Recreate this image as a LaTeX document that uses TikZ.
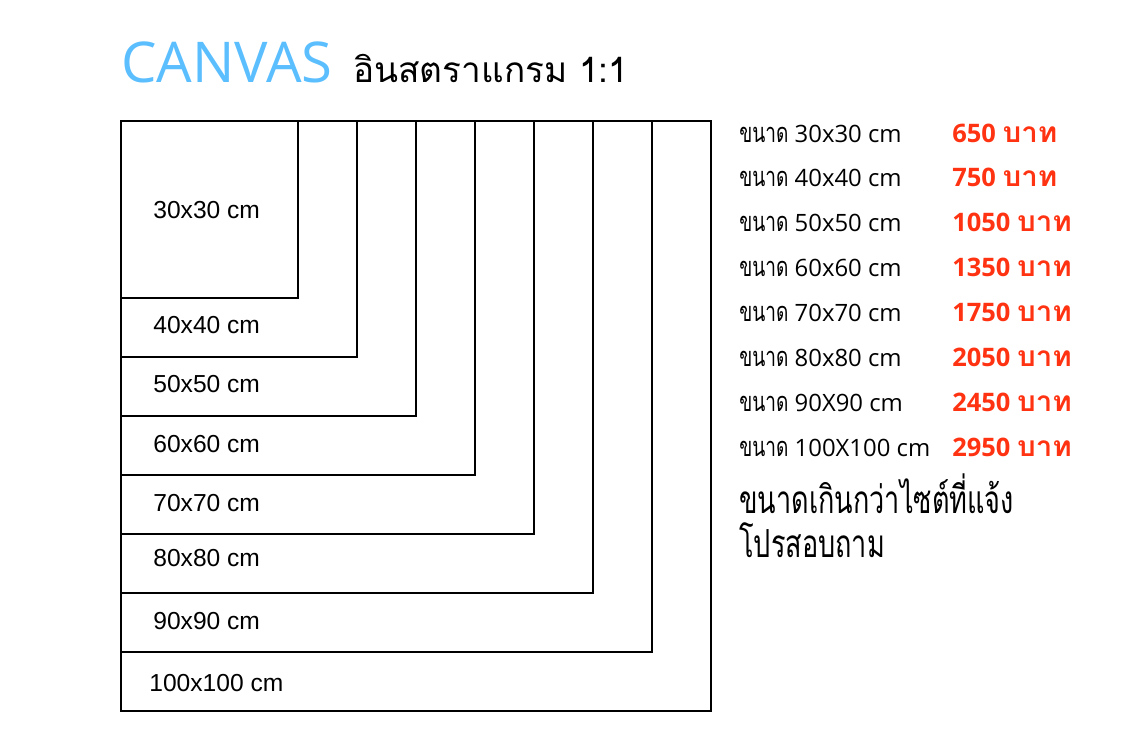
\documentclass[tikz,border=0pt]{standalone}
\usepackage{fontspec}
\setmainfont{Open Sans}
\newfontfamily\etiq{Liberation Sans}
\newfontfamily\thai[Script=Thai]{Loma}
\newfontfamily\thaiE[Script=Thai,FakeStretch=0.7]{Loma}
\newfontfamily\thaiW[Script=Thai,FakeStretch=1.05]{Loma}
\definecolor{bleu}{HTML}{5BBEFF}
\definecolor{rouge}{HTML}{FF3312}
\begin{document}
\begin{tikzpicture}[x=0.02cm,y=-0.02cm]
% Styles
\tikzstyle{cadre}=[line width=1.1pt]
\tikzstyle{texte}=[anchor=base west,inner sep=0pt]
\tikzstyle{taille}=[texte,font=\etiq\fontsize{14}{16}\selectfont]
\tikzstyle{ligne}=[texte,font=\fontsize{13.6}{16}\selectfont]
\tikzstyle{prix}=[texte,text=rouge,font=\bfseries\fontsize{14.5}{17}\selectfont]
\tikzstyle{note}=[texte,font=\thaiE\fontsize{22}{26}\selectfont]
% Dimensions
\def\Orig{121}
\def\Cote{177}
\def\Pas{59}
\def\Col{739}
\def\ColPrix{952}
\def\HtL{44.9}
% Cadre de la page
\useasboundingbox (0,0) rectangle (1144,745);
% Titre
\node[texte,text=bleu,font=\fontsize{32}{36}\selectfont] (titre) at (121,82) {CANVAS};
\node[texte,font=\thai\fontsize{20}{24}\selectfont] (soustitre) at (353,82) {อินสตราแกรม 1:1};
% Carrés emboîtés
\foreach \i in {0,...,7}
  \draw[cadre] (\Orig,\Orig) rectangle ({\Orig+\Cote+\i*\Pas},{\Orig+\Cote+\i*\Pas});
% Étiquettes des carrés
\foreach \s/\x/\y in {30/153/218,40/153/333,50/153/392,60/153/452,70/153/511,80/153/566,90/153/629,100/149/691}
  \node[taille] (lbl\s) at (\x,\y) {\s x\s\ cm};
% Liste des prix
\foreach \t/\p [count=\k from 0] in {30x30/650,40x40/750,50x50/1050,60x60/1350,70x70/1750,80x80/2050,90X90/2450,100X100/2950}
  {\node[ligne] (ligne\k) at (\Col,{142+\k*\HtL}) {{\thaiE\fontsize{15.5}{18}\selectfont ขนาด} \t\ cm};
   \node[prix] (prix\k) at (\ColPrix,{142+\k*\HtL}) {\p\ {\thaiW\fontsize{16}{19}\selectfont บาท}};}
% Remarque
\node[note] (note1) at (\Col,513) {ขนาดเกินกว่าไซต์ที่แจ้ง};
\node[note] (note2) at (\Col,557) {โปรสอบถาม};
\end{tikzpicture}
\end{document}
